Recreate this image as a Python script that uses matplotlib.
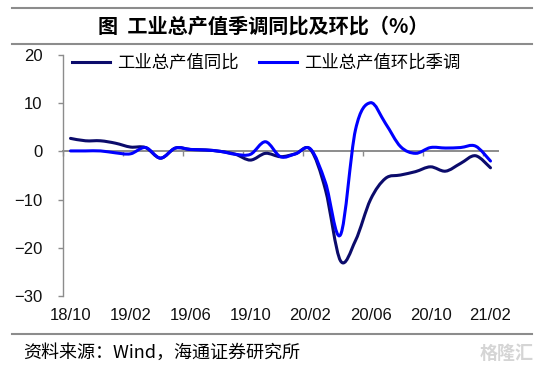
import numpy as np
import matplotlib
matplotlib.use("Agg")
import matplotlib.pyplot as plt
from matplotlib.path import Path
from matplotlib.patches import PathPatch
from matplotlib.lines import Line2D

plt.rcParams["font.family"] = ["Liberation Sans", "Noto Sans CJK SC"]

# Data: monthly, 18/10 .. 21/02
months = ["18/10", "18/11", "18/12", "19/01", "19/02", "19/03", "19/04", "19/05",
          "19/06", "19/07", "19/08", "19/09", "19/10", "19/11", "19/12", "20/01",
          "20/02", "20/03", "20/04", "20/05", "20/06", "20/07", "20/08", "20/09",
          "20/10", "20/11", "20/12", "21/01", "21/02"]
yoy = [2.7, 2.2, 2.2, 1.7, 0.9, 0.8, -1.4, 0.7, 0.4, 0.3, 0.0, -0.6, -1.8, -0.4,
       -1.1, -0.5, 0.4, -8.0, -22.7, -18.5, -10.0, -5.6, -4.9, -4.2, -3.2, -4.1,
       -2.5, -0.9, -3.4]
mom_sa = [0.1, 0.1, 0.1, -0.3, -0.5, 0.8, -1.4, 0.7, 0.4, 0.3, 0.0, -0.6, -0.6, 2.0,
          -1.1, -0.5, 0.5, -6.5, -17.3, 4.5, 10.1, 5.8, 1.0, -0.4, 0.8, 0.7,
          0.8, 1.1, -2.0]
names = ["工业总产值同比", "工业总产值环比季调"]
colors = ["#0B0B6B", "#0000FF"]

label_step = 4


def smooth_path(xs, ys):
    # Excel-style smoothed line: cubic Bezier through every point
    p = np.column_stack([xs, ys]).astype(float)
    n = len(p)
    verts = [p[0]]
    codes = [Path.MOVETO]
    for i in range(n - 1):
        p0 = p[max(i - 1, 0)]
        p1 = p[i]
        p2 = p[i + 1]
        p3 = p[min(i + 2, n - 1)]
        verts += [p1 + (p2 - p0) / 6, p2 - (p3 - p1) / 6, p2]
        codes += [Path.CURVE4] * 3
    return Path(verts, codes)


W, H = 544, 366
fig = plt.figure(figsize=(W / 100, H / 100), dpi=100)
ax = fig.add_axes([63 / W, 1 - 296 / H, 435 / W, 241 / H])

x = np.arange(len(months)) + 0.5
for ys, c in zip([yoy, mom_sa], colors):
    ax.add_patch(PathPatch(smooth_path(x, ys), fill=False, edgecolor=c,
                           lw=2.2, zorder=3, capstyle="round", joinstyle="round"))

ax.set_xlim(0, len(months))
ax.set_ylim(-30, 20)
ax.set_yticks(np.arange(-30, 21, 10))

grey = "#8C8C8C"
for s in ["top", "right", "bottom"]:
    ax.spines[s].set_visible(False)
ax.spines["left"].set_color(grey)
ax.spines["left"].set_linewidth(1.0)
ax.tick_params(axis="y", direction="out", length=3.6, width=1.0, color=grey,
               labelsize=12, pad=11, labelcolor="#111111")

# category labels centred in their slots
pos = np.arange(0, len(months), label_step)
ax.set_xticks(pos + 0.5)
ax.set_xticklabels([months[i] for i in pos])
ax.tick_params(axis="x", length=0, labelsize=12, pad=9, labelcolor="#111111")

# zero axis line with tick marks
zero = ax.secondary_xaxis(0.6)
zero.set_alignment("bottom")
zero.set_xticks(pos)
zero.set_xticklabels([])
zero.tick_params(axis="x", direction="out", length=3.6, width=1.0, color=grey)
zero.spines["bottom"].set_color(grey)
zero.spines["bottom"].set_linewidth(1.4)

handles = [Line2D([], [], color=c, lw=2.2) for c in colors]
ax.legend(handles, names, loc="center left", bbox_to_anchor=(9 / 435, 0.968),
          ncol=2, frameon=False, handlelength=2.2, handletextpad=0.4,
          columnspacing=1.15, borderpad=0, borderaxespad=0,
          prop={"family": "Noto Sans CJK SC", "size": 12.5})

# title block and source
for yy in [7.6, 44.4, 334]:
    fig.add_artist(Line2D([12 / W, 532 / W], [1 - yy / H] * 2, color="#8C8C8C",
                          lw=1.5, transform=fig.transFigure))
fig.text(263 / W, 1 - 26 / H, "图  工业总产值季调同比及环比（%）", ha="center",
         va="center", fontsize=14.5, fontweight="bold",
         family=["Noto Sans CJK SC", "Liberation Sans"])
fig.text(23 / W, 1 - 353 / H, "资料来源：Wind，海通证券研究所", ha="left",
         va="center", fontsize=13, family=["Noto Sans CJK SC", "Liberation Sans"])
fig.text(534 / W, 1 - 353 / H, "格隆汇", ha="right", va="center", fontsize=13,
         color="#D5D5D5", fontweight="bold", family=["Noto Sans CJK SC"])

fig.savefig("out.png", dpi=100)
